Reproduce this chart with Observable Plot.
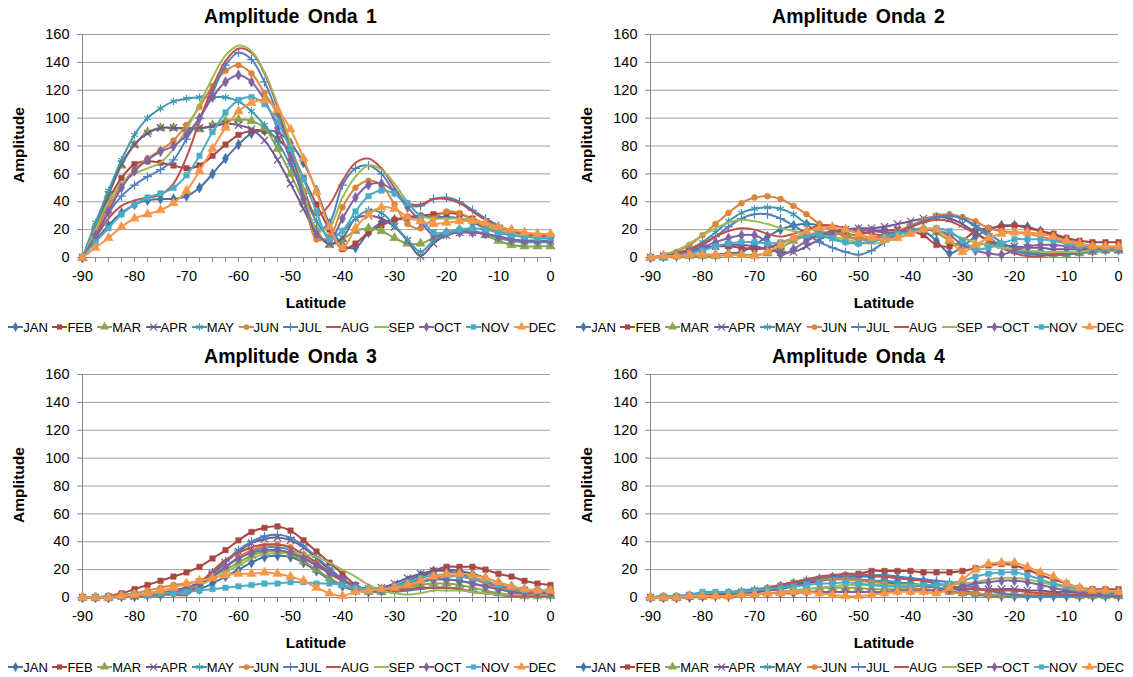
<!DOCTYPE html>
<html>
<head>
<meta charset="utf-8">
<script src="https://cdn.jsdelivr.net/npm/d3@7"></script>
<script src="https://cdn.jsdelivr.net/npm/@observablehq/plot@0.6"></script>
<style>
  body { margin: 0; background: #fff; }
  #root { position: relative; width: 1133px; height: 677px; overflow: hidden; font-family: "Liberation Sans", Arial, sans-serif; color: #000; }
  .title { position: absolute; text-align: center; font-weight: bold; font-size: 19.5px; line-height: 24px; word-spacing: 3px; }
  .ylab { position: absolute; width: 200px; height: 20px; line-height: 20px; text-align: center; font-weight: bold; font-size: 15.5px; transform: rotate(-90deg); }
  .xlab { position: absolute; text-align: center; font-weight: bold; font-size: 15.5px; line-height: 20px; }
  .legend { position: absolute; display: flex; justify-content: center; align-items: center; font-size: 13px; height: 18px; white-space: nowrap; }
  .legend .item { display: flex; align-items: center; margin-right: 4.5px; }
  .legend svg { display: block; }
  .plot { position: absolute; }
</style>
</head>
<body>
<div id="root"></div>
<script>
// ---- categories / ticks ----
const lats = [-90,-87.5,-85,-82.5,-80,-77.5,-75,-72.5,-70,-67.5,-65,-62.5,-60,-57.5,-55,-52.5,-50,-47.5,-45,-42.5,-40,-37.5,-35,-32.5,-30,-27.5,-25,-22.5,-20,-17.5,-15,-12.5,-10,-7.5,-5,-2.5,0];
const months = ["JAN","FEB","MAR","APR","MAY","JUN","JUL","AUG","SEP","OCT","NOV","DEC"];
const xTickLabels = [-90,-80,-70,-60,-50,-40,-30,-20,-10,0];
const yTicks = [0,20,40,60,80,100,120,140,160];
const titles = ["Amplitude Onda 1","Amplitude Onda 2","Amplitude Onda 3","Amplitude Onda 4"];

// ---- Onda 1 ----
const o1_JAN = [0,12,23,32,38,41,42,42,44,50,60,71,81,89,91,90,82,68,48,24,9,7,18,25,27,28,29,29,29,28,25,21,18,16,15,15,15];
const o1_FEB = [0,16,41,57,67,69,68,66,64,66,73,81,88,91,91,85,76,57,38,20,6,10,18,23,27,29,30,31,32,31,28,24,20,17,15,15,15];
const o1_MAR = [0,22,45,66,81,90,93,93,92,92,95,98,99,98,93,78,60,40,20,9,13,19,21,19,14,10,10,14,18,20,19,16,12,9,8,8,8];
const o1_APR = [0,20,45,67,81,89,93,93,93,93,94,96,95,92,84,70,53,35,17,10,14,28,30,28,22,12,1,10,16,18,18,17,15,13,12,12,12];
const o1_MAY = [0,25,48,70,88,100,107,112,114,115,115,115,112,105,95,83,66,46,26,15,19,28,34,32,23,13,4,12,17,19,19,17,14,12,11,11,11];
const o1_JUN = [0,18,36,52,63,71,77,84,95,108,123,134,138,132,118,103,80,48,13,15,36,50,55,52,38,24,21,28,33,32,27,22,19,17,16,16,16];
const o1_JUL = [0,15,32,44,52,58,63,70,85,100,118,138,147,142,126,103,76,46,20,25,52,64,66,60,47,38,37,42,43,40,34,28,23,19,17,16,16];
const o1_AUG = [0,14,28,37,41,43,45,53,72,98,122,141,150,147,132,108,78,50,30,38,55,68,71,64,50,39,38,42,42,39,33,27,22,19,17,16,16];
const o1_SEP = [0,20,40,53,60,64,68,78,92,110,129,145,152,148,133,110,82,50,20,22,43,58,66,63,53,40,30,28,28,28,27,24,20,17,15,14,14];
const o1_OCT = [0,16,33,50,62,70,76,80,88,100,115,126,131,126,113,93,70,42,17,12,28,43,52,53,47,36,26,16,17,18,18,17,15,13,12,12,12];
const o1_NOV = [0,11,21,31,38,43,46,50,59,73,90,104,113,115,110,97,78,56,33,13,19,33,44,48,46,39,29,18,18,20,21,20,18,16,15,14,14];
const o1_DEC = [0,7,14,22,28,31,34,39,48,62,78,93,105,111,113,106,92,71,47,22,7,21,31,36,35,29,26,24,25,26,26,25,22,20,18,17,17];

// ---- Onda 2 ----
const o2_JAN = [0,1,1,2,2,2,3,4,9,15,20,23,24,23,20,16,13,13,15,18,20,19,12,3,8,15,20,23,23,22,19,16,13,10,8,7,7];
const o2_FEB = [0,1,3,5,7,8,8,7,6,7,10,13,15,16,17,17,16,19,19,20,19,16,9,8,12,19,21,22,23,21,19,17,14,12,11,11,11];
const o2_MAR = [0,0,1,1,1,1,2,2,2,3,7,12,16,18,18,17,15,13,14,17,20,21,18,12,8,9,10,9,7,5,3,2,2,3,4,5,5];
const o2_APR = [0,1,2,4,6,8,9,9,8,6,4,4,8,13,17,20,21,21,22,24,26,28,29,28,24,18,12,9,8,7,7,6,6,6,6,6,6];
const o2_MAY = [0,1,3,6,11,18,26,32,35,36,35,31,24,17,13,11,10,11,14,18,22,26,29,30,28,22,15,8,4,3,3,3,3,4,4,5,5];
const o2_JUN = [0,1,4,9,16,24,32,39,43,44,42,37,31,24,19,15,13,14,16,19,23,27,30,31,29,26,21,19,18,17,15,13,11,9,8,7,7];
const o2_JUL = [0,1,2,5,9,15,22,28,31,31,28,23,17,11,7,4,2,5,11,17,22,26,29,30,28,23,17,11,6,3,2,2,2,3,4,5,5];
const o2_AUG = [0,1,3,6,10,15,19,21,20,17,15,17,20,23,23,21,19,17,16,18,22,25,27,26,22,17,12,7,3,1,1,2,3,4,5,6,6];
const o2_SEP = [0,2,5,10,16,21,25,27,26,24,21,19,17,16,15,13,11,10,11,14,18,21,20,17,14,11,9,7,6,5,4,4,4,4,5,5,5];
const o2_OCT = [0,1,2,4,7,11,14,16,16,11,2,6,12,16,19,20,20,19,18,18,19,20,19,16,9,5,3,2,5,8,9,9,8,7,6,6,6];
const o2_NOV = [0,0,1,3,5,8,10,11,11,10,11,14,16,16,14,11,10,12,15,17,18,20,21,19,12,6,7,10,13,13,13,12,10,8,7,7,7];
const o2_DEC = [0,1,1,2,2,2,2,2,1,4,9,14,19,21,22,20,17,14,13,14,17,20,20,13,4,9,14,17,18,18,17,15,12,10,8,8,8];

// ---- Onda 3 ----
const o3_JAN = [0,0,0,1,1,2,2,3,4,6,10,15,20,25,29,30,29,25,19,13,8,5,4,5,8,12,16,19,20,19,17,14,11,8,6,5,5];
const o3_FEB = [0,0,1,3,6,9,12,15,18,22,28,34,41,47,50,51,48,41,33,25,17,9,5,4,5,9,14,19,22,22,22,20,17,15,12,10,9];
const o3_MAR = [0,0,0,1,1,2,3,5,7,10,15,20,25,30,33,33,31,26,20,14,9,6,4,4,5,7,9,10,10,9,7,5,3,2,1,1,1];
const o3_APR = [0,0,0,1,1,2,3,5,7,11,17,25,33,39,42,43,41,36,28,20,13,8,6,7,10,14,17,19,19,17,14,11,8,6,5,4,4];
const o3_MAY = [0,0,0,0,1,1,2,3,5,9,15,22,28,33,36,36,34,29,23,17,12,8,6,5,6,8,11,13,13,12,10,8,6,4,3,3,3];
const o3_JUN = [0,0,1,2,3,5,7,9,10,12,16,22,29,34,37,38,36,31,25,18,12,8,6,5,6,8,11,14,15,15,13,10,7,5,4,3,3];
const o3_JUL = [0,0,0,1,1,2,3,4,6,10,18,26,34,40,44,45,43,37,29,21,13,8,5,4,4,5,6,7,7,6,4,3,2,1,1,1,1];
const o3_AUG = [0,0,0,1,1,1,2,2,2,10,19,27,32,36,38,38,36,31,25,18,12,8,6,5,5,6,7,7,7,6,4,3,2,1,1,1,1];
const o3_SEP = [0,0,0,1,1,2,3,5,7,9,13,18,23,28,31,32,32,31,29,25,20,15,9,5,3,2,3,5,5,5,4,3,2,2,2,2,2];
const o3_OCT = [0,0,0,1,1,2,3,5,7,10,15,22,28,32,34,34,32,28,23,18,13,8,6,6,8,10,12,13,13,12,10,8,6,4,3,3,3];
const o3_NOV = [0,0,1,1,2,2,3,3,4,5,6,7,8,9,10,10,11,11,10,10,9,7,6,6,8,11,14,16,16,15,14,12,9,7,5,5,5];
const o3_DEC = [0,0,0,1,2,3,5,7,10,12,14,16,17,17,18,17,15,12,7,3,1,4,5,6,7,9,12,15,17,17,16,14,11,8,6,5,5];

// ---- Onda 4 ----
const o4_JAN = [0,0,0,1,1,2,2,3,4,5,7,9,11,13,14,15,15,15,15,14,13,12,10,7,5,3,2,1,1,1,1,1,1,1,1,1,1];
const o4_FEB = [0,0,0,1,1,2,2,3,4,5,7,9,11,13,15,16,17,19,19,19,19,18,18,18,19,21,23,24,23,20,16,13,10,7,6,6,6];
const o4_MAR = [0,0,0,1,1,1,1,2,2,3,4,5,6,7,7,7,7,6,6,6,6,6,5,4,3,3,2,2,2,2,2,2,2,1,1,1,1];
const o4_APR = [0,0,0,1,1,2,2,3,4,5,6,8,10,12,13,13,13,12,11,10,9,8,7,6,6,6,6,6,6,5,5,4,4,3,3,2,2];
const o4_MAY = [0,1,1,2,3,3,4,5,6,7,9,11,13,14,14,14,13,12,12,11,10,9,7,5,3,2,1,1,1,1,1,1,1,1,1,1,1];
const o4_JUN = [0,0,1,1,2,3,3,4,5,7,9,11,12,13,13,13,12,11,10,8,7,6,5,4,3,3,2,2,2,2,2,2,2,2,2,2,2];
const o4_JUL = [0,0,0,1,1,2,3,4,5,6,8,10,12,14,15,16,16,16,16,15,14,13,12,11,9,7,5,3,2,1,1,1,1,1,1,1,1];
const o4_AUG = [0,0,0,1,1,2,3,4,5,7,9,11,13,15,16,17,17,16,15,14,13,12,10,8,7,6,5,5,5,4,3,3,2,2,2,2,2];
const o4_SEP = [0,0,0,0,1,1,1,2,2,3,4,5,6,7,8,9,9,9,9,9,9,9,9,9,10,11,13,14,14,13,11,9,7,5,4,3,3];
const o4_OCT = [0,0,0,0,1,1,1,2,2,3,3,3,4,4,4,4,4,4,4,5,5,5,5,6,8,10,11,12,12,11,9,7,5,4,3,3,3];
const o4_NOV = [0,1,1,2,4,4,4,4,5,6,7,8,9,10,10,11,10,9,8,8,8,9,9,10,12,15,17,18,18,16,13,10,8,6,5,4,4];
const o4_DEC = [0,0,0,1,1,1,1,2,2,3,3,4,4,3,2,1,1,2,3,4,4,4,3,7,13,20,24,25,25,22,18,15,10,7,5,5,4];

// ---- tables built from the arrays ----
const panels = [
  [o1_JAN,o1_FEB,o1_MAR,o1_APR,o1_MAY,o1_JUN,o1_JUL,o1_AUG,o1_SEP,o1_OCT,o1_NOV,o1_DEC],
  [o2_JAN,o2_FEB,o2_MAR,o2_APR,o2_MAY,o2_JUN,o2_JUL,o2_AUG,o2_SEP,o2_OCT,o2_NOV,o2_DEC],
  [o3_JAN,o3_FEB,o3_MAR,o3_APR,o3_MAY,o3_JUN,o3_JUL,o3_AUG,o3_SEP,o3_OCT,o3_NOV,o3_DEC],
  [o4_JAN,o4_FEB,o4_MAR,o4_APR,o4_MAY,o4_JUN,o4_JUL,o4_AUG,o4_SEP,o4_OCT,o4_NOV,o4_DEC]
];

// ---- styles ----
const colors = ["#4572A7","#AA4643","#89A54E","#71588F","#4198AF","#DB843D","#4F81BD","#C0504D","#9BBB59","#8064A2","#4BACC6","#F79646"];
const markers = ["diamond","square","triangle","times","asterisk","circle","plus",null,null,"diamond","square","triangle"];
const filledSet = new Set(["diamond","square","triangle","circle"]);
const markerR = {diamond: 3.2, square: 3.1, triangle: 3.5, circle: 3.0, times: 3.4, asterisk: 3.6, plus: 3.0};

const root = document.getElementById("root");
const W = 567, H = 300;
const lefts = [-1, 567, -1, 567];
const tops = [0, 0, 340, 340];

function symbolType(name) {
  const m = {
    diamond: d3.symbolDiamond, square: d3.symbolSquare, triangle: d3.symbolTriangle,
    circle: d3.symbolCircle, times: d3.symbolTimes || d3.symbolX, asterisk: d3.symbolAsterisk, plus: d3.symbolPlus || d3.symbolCross
  };
  return m[name];
}

panels.forEach((series, p) => {
  const L = lefts[p], T = tops[p];
  const marks = [
    Plot.gridY(yTicks, {stroke: "#a0a0a0", strokeOpacity: 1, strokeWidth: 1}),
    Plot.ruleX([-90], {stroke: "#868686", strokeWidth: 1}),
    Plot.ruleY([0], {stroke: "#868686", strokeWidth: 1}),
    Plot.axisY(yTicks, {tickSize: 5, tickPadding: 8, stroke: "#868686", fill: "#000", fontSize: 14.5, label: null, tickFormat: d => String(d)}),
    Plot.axisX(lats, {tickSize: 5, tickPadding: 8, stroke: "#868686", fill: "#000", fontSize: 14.5, label: null,
      tickFormat: d => (xTickLabels.includes(d) ? String(d) : "")})
  ];
  series.forEach((vals, i) => {
    const rows = lats.map((lat, j) => ({lat, v: vals[j]}));
    marks.push(Plot.line(rows, {x: "lat", y: "v", stroke: colors[i], strokeWidth: 2, curve: "catmull-rom"}));
    const mk = markers[i];
    if (mk) {
      if (filledSet.has(mk)) {
        marks.push(Plot.dot(rows, {x: "lat", y: "v", symbol: mk, r: markerR[mk], fill: colors[i], stroke: colors[i], strokeWidth: 0.5}));
      } else {
        marks.push(Plot.dot(rows, {x: "lat", y: "v", symbol: mk, r: markerR[mk], stroke: colors[i], fill: "none", strokeWidth: 1.2}));
      }
    }
  });
  const svg = Plot.plot({
    width: W, height: H,
    marginLeft: 83, marginRight: 16, marginTop: 34, marginBottom: 43,
    x: {domain: [-90, 0], axis: null},
    y: {domain: [0, 160], axis: null},
    style: {fontFamily: "'Liberation Sans', Arial, sans-serif", fontSize: "14.5px", background: "transparent", color: "#000", overflow: "visible"},
    marks
  });
  svg.classList.add("plot");
  svg.style.left = L + "px";
  svg.style.top = T + "px";
  root.appendChild(svg);

  const title = document.createElement("div");
  title.className = "title";
  title.style.left = (L + 8) + "px";
  title.style.width = W + "px";
  title.style.top = (T + 4) + "px";
  title.textContent = titles[p];
  root.appendChild(title);

  const yl = document.createElement("div");
  yl.className = "ylab";
  yl.style.left = (L + 20 - 100) + "px";
  yl.style.top = (T + 145 - 10) + "px";
  yl.textContent = "Amplitude";
  root.appendChild(yl);

  const xl = document.createElement("div");
  xl.className = "xlab";
  xl.style.left = (L + 83) + "px";
  xl.style.width = (W - 83 - 16) + "px";
  xl.style.top = (T + 293) + "px";
  xl.textContent = "Latitude";
  root.appendChild(xl);

  const lg = document.createElement("div");
  lg.className = "legend";
  lg.style.left = (L + 2) + "px";
  lg.style.width = W + "px";
  lg.style.top = (T + 318) + "px";
  months.forEach((m, i) => {
    const it = document.createElement("div");
    it.className = "item";
    const s = d3.create("svg").attr("width", 15).attr("height", 12);
    s.append("line").attr("x1", 0).attr("x2", 15).attr("y1", 6).attr("y2", 6).attr("stroke", colors[i]).attr("stroke-width", 2);
    const mk = markers[i];
    if (mk) {
      const r = markerR[mk] * 0.95;
      const path = d3.symbol(symbolType(mk), Math.PI * r * r)();
      const pth = s.append("path").attr("d", path).attr("transform", "translate(7.5,6)");
      if (filledSet.has(mk)) pth.attr("fill", colors[i]);
      else pth.attr("fill", "none").attr("stroke", colors[i]).attr("stroke-width", 1.2);
    }
    it.appendChild(s.node());
    const t = document.createElement("span");
    t.textContent = m;
    it.appendChild(t);
    lg.appendChild(it);
  });
  root.appendChild(lg);
});
</script>
</body>
</html>
